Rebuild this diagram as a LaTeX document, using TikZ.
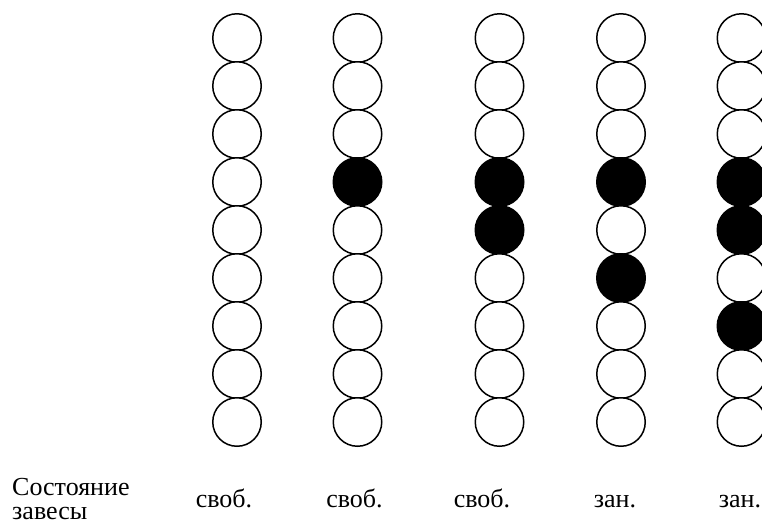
\documentclass[tikz,border=0pt]{standalone}
\usepackage{fontspec}
\setmainfont{Liberation Serif}
\begin{document}
\begin{tikzpicture}[x=1pt,y=-1pt,
  bead/.style={circle,draw=black,line width=1.5pt,minimum size=48.5pt,inner sep=0pt,fill=white},
  fullbead/.style={bead,fill=black},
  lbl/.style={anchor=base,inner sep=0pt,font=\fontsize{26}{28}\selectfont},
  side/.style={anchor=base west,inner sep=0pt,font=\fontsize{26}{28}\selectfont}]
\useasboundingbox (0,0) rectangle (762,523);
% column 1
\foreach \r in {0,...,8} \node[bead] (a\r) at (237,38+48*\r) {};
% column 2
\foreach \r in {0,...,8} {
  \ifnum\r=3 \node[fullbead] (b\r) at (357.5,38+48*\r) {};
  \else \node[bead] (b\r) at (357.5,38+48*\r) {}; \fi }
% column 3
\foreach \r in {0,...,8} {
  \ifnum\r=3 \node[fullbead] (c\r) at (499.5,38+48*\r) {};
  \else\ifnum\r=4 \node[fullbead] (c\r) at (499.5,38+48*\r) {};
  \else \node[bead] (c\r) at (499.5,38+48*\r) {}; \fi\fi }
% column 4
\foreach \r in {0,...,8} {
  \ifnum\r=3 \node[fullbead] (d\r) at (621,38+48*\r) {};
  \else\ifnum\r=5 \node[fullbead] (d\r) at (621,38+48*\r) {};
  \else \node[bead] (d\r) at (621,38+48*\r) {}; \fi\fi }
% column 5
\foreach \r in {0,...,8} {
  \ifnum\r=3 \node[fullbead] (e\r) at (741.5,38+48*\r) {};
  \else\ifnum\r=4 \node[fullbead] (e\r) at (741.5,38+48*\r) {};
  \else\ifnum\r=6 \node[fullbead] (e\r) at (741.5,38+48*\r) {};
  \else \node[bead] (e\r) at (741.5,38+48*\r) {}; \fi\fi\fi }
% labels
\node[side] (s1) at (12,495) {Состояние};
\node[side] (s2) at (12,519) {завесы};
\node[lbl] (l1) at (224,507) {своб.};
\node[lbl] (l2) at (354.5,507) {своб.};
\node[lbl] (l3) at (482,507) {своб.};
\node[lbl] (l4) at (615,507) {зан.};
\node[lbl] (l5) at (740,507) {зан.};
\end{tikzpicture}
\end{document}
